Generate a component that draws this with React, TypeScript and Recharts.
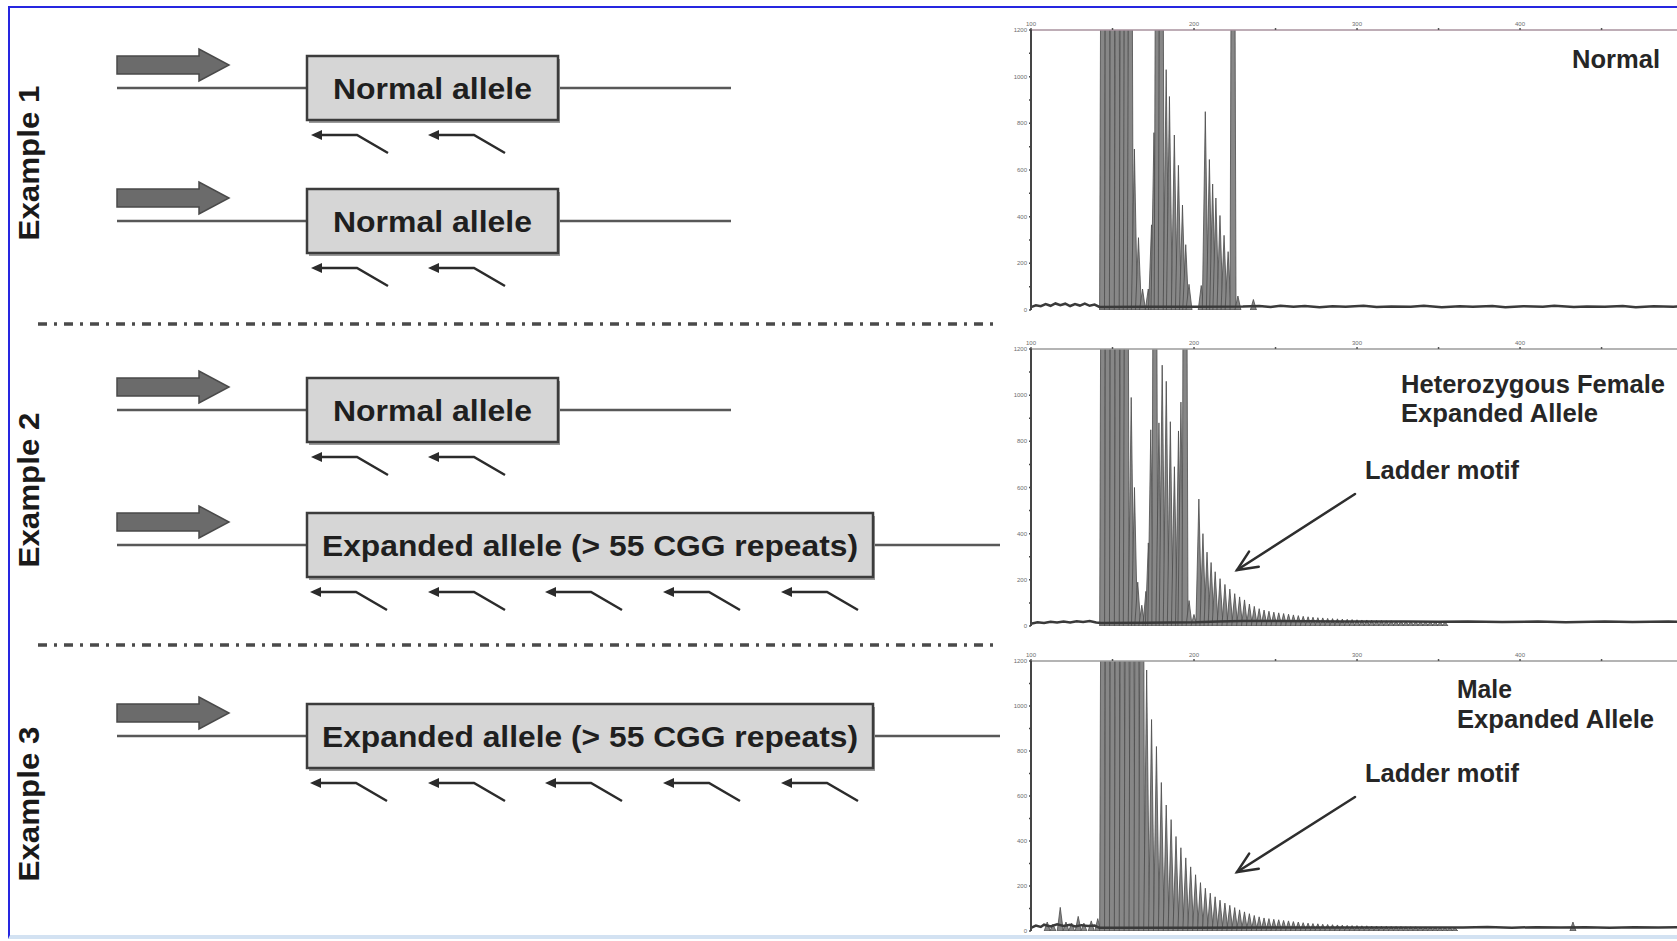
import React from 'react';
import { ComposedChart, Bar, Line, XAxis, YAxis } from 'recharts';

// fragment size (bp) on the top axis, signal (RFU) on the left axis
const bpTicks = [100, 150, 200, 250, 300, 350, 400, 450, 500];
const bpLabels = [100, 200, 300, 400];
const rfuTicks = [0, 100, 200, 300, 400, 500, 600, 700, 800, 900, 1000, 1100, 1200];

// [bp, rfu] peaks; 4000 = peak running off the top of the scale
const normalPeaks: [number, number][] = [
    [144, 4000], [147, 4000], [150, 4000], [153, 4000], [156, 4000], [158.5, 4000], [161, 4000],
    [163.5, 690], [166, 310], [168.5, 90],
    [172, 90], [174, 365], [175.5, 760], [177.5, 4000], [180, 4000], [183, 1030], [185, 915],
    [188, 750], [190.5, 620], [193, 450], [195, 280], [197, 110],
    [204.5, 105], [207, 850], [209.5, 645], [211.5, 540], [213.5, 480], [216, 405], [218.5, 320],
    [221, 250], [224, 4000], [227, 60],
    [236.5, 45],
];
const normalNoise: [number, number][] = [
    [100, 12], [103, 20], [106, 16], [109, 25], [112, 18], [115, 28], [118, 21], [121, 27], [124, 17],
    [127, 25], [130, 19], [133, 27], [136, 18], [139, 23], [142, 13], [170, 14], [200, 14], [230, 15],
    [240, 17], [247, 13], [253, 18], [261, 14], [268, 17], [277, 12], [285, 16], [293, 14], [304, 18],
    [312, 13], [321, 15], [333, 14], [341, 18], [352, 12], [363, 16], [371, 14], [383, 17], [391, 12],
    [402, 16], [414, 14], [421, 18], [433, 13], [441, 15], [452, 14], [463, 17], [471, 12], [482, 16],
    [494, 14], [503, 17], [511, 13], [520, 15],
];

const heteroPeaks: [number, number][] = [
    [144, 4000], [147, 4000], [150, 4000], [153, 4000], [156, 4000], [158.5, 4000],
    [161.5, 990], [163.5, 600], [165.5, 190], [168, 90],
    [170.5, 150], [172, 360], [173.5, 850], [176, 4000], [178.5, 880], [180.5, 1130], [183, 1060],
    [185.5, 885], [188, 690], [190.5, 845], [192, 970], [194.5, 4000], [197, 110], [200, 50],
    [203, 550], [205.5, 400], [208, 320], [210.5, 275], [213, 235], [216, 205], [219, 180], [222, 160],
    [225, 140], [228, 126], [231, 113], [234, 95], [237, 85], [240, 75], [243, 69], [246, 64], [249, 60],
    [252, 57], [255, 54], [258, 51], [261, 48], [264, 45], [267, 42], [270, 40], [273, 38], [276, 36],
    [279, 35], [282, 33], [285, 32], [288, 31], [291, 30], [294, 29], [297, 28], [300, 27], [303, 26],
    [306, 26], [309, 25], [312, 24], [315, 24], [318, 23], [321, 23], [324, 22], [327, 22], [330, 21],
    [333, 21], [336, 20], [339, 20], [342, 20], [345, 19], [348, 19], [351, 18], [354, 18],
];
const heteroNoise: [number, number][] = [
    [100, 10], [104, 16], [108, 13], [112, 18], [116, 15], [120, 19], [124, 15], [128, 21], [132, 17],
    [136, 22], [140, 15], [143, 13], [170, 14], [201, 16], [215, 20], [230, 22], [250, 22], [270, 21],
    [290, 20], [310, 19], [330, 19], [350, 18], [368, 20], [389, 17], [411, 19], [428, 16], [452, 19],
    [469, 17], [491, 19], [508, 16], [520, 18],
];

const malePeaks: [number, number][] = [
    [110, 40], [113.5, 30], [118, 105], [121.5, 40], [125, 35], [129, 65], [132.5, 35], [137, 45], [141, 55],
    [144, 4000], [147, 4000], [150, 4000], [153, 4000], [156, 4000], [159, 4000], [162, 4000], [165, 4000],
    [168, 4000], [171, 1160], [174, 940], [177, 820], [180, 660], [183, 560], [186, 495], [189, 420],
    [192, 370], [195, 325], [198, 285], [201, 250], [204, 215], [207, 190], [210, 168], [213, 152],
    [216, 137], [219, 124], [222, 114], [225, 104], [228, 94], [231, 85], [234, 77], [237, 69], [240, 63],
    [243, 58], [246, 55], [249, 52], [252, 50], [255, 47], [258, 45], [261, 42], [264, 40], [267, 37],
    [270, 35], [273, 33], [276, 32], [279, 30], [282, 29], [285, 28], [288, 27], [291, 26], [294, 25],
    [297, 24], [300, 24], [303, 23], [306, 23], [309, 22], [312, 22], [315, 21], [318, 21], [321, 20],
    [324, 20], [327, 20], [330, 19], [333, 19], [336, 19], [339, 18], [342, 18], [345, 18], [348, 18],
    [351, 17], [354, 17], [357, 17], [360, 16],
    [432.5, 40],
];
const maleNoise: [number, number][] = [
    [100, 14], [103, 24], [106, 18], [108, 28], [112, 20], [116, 30], [120, 22], [124, 28], [127, 20],
    [131, 26], [135, 22], [139, 24], [142, 14], [200, 15], [260, 16], [320, 16], [365, 16], [380, 18],
    [395, 15], [410, 17], [425, 16], [440, 17], [455, 15], [470, 17], [485, 16], [500, 17], [520, 16],
];

const font = '"Liberation Sans", Arial, sans-serif';

type Row = { bp: number; rfu?: number; noise?: number };

function buildRows(peaks: [number, number][], noise: [number, number][]): Row[] {
    const rows: Row[] = [
        ...peaks.map(([bp, rfu]) => ({ bp, rfu })),
        ...noise.map(([bp, n]) => ({ bp, noise: n })),
    ];
    return rows.sort((a, b) => a.bp - b.bp);
}

const Spike = (props: any) => {
    const { x, y, width, height, payload } = props;
    if (!payload || payload.rfu == null || !isFinite(y) || !isFinite(height)) return null;
    const cx = x + width / 2;
    const base = y + height;
    return (
        <path
            d={`M${cx - 3},${base} L${cx},${y} L${cx + 3},${base} Z`}
            fill="#878787"
            stroke="#4a4a4a"
            strokeWidth={0.8}
        />
    );
};

interface PanelProps {
    peaks: [number, number][];
    noise: [number, number][];
    plotTop: number;
    plotHeight: number;
    axisColor: string;
}

const Electropherogram: React.FC<PanelProps> = ({ peaks, noise, plotTop, plotHeight, axisColor }) => {
    const rows = buildRows(peaks, noise);
    return (
        <div style={{ position: 'absolute', left: 1008, top: plotTop - 14 }}>
            <ComposedChart width={708} height={plotHeight + 16} data={rows} margin={{ top: 0, right: 0, bottom: 2, left: 0 }}>
                <XAxis
                    dataKey="bp"
                    type="number"
                    orientation="top"
                    domain={[100, 520.2]}
                    ticks={bpTicks}
                    interval={0}
                    height={14}
                    tickSize={2}
                    tickMargin={2}
                    tick={{ fontSize: 6, fill: '#6d6d6d', fontFamily: font }}
                    tickFormatter={(v: number) => (bpLabels.includes(v) ? String(v) : '')}
                    axisLine={{ stroke: axisColor, strokeWidth: 1.5 }}
                    tickLine={{ stroke: '#555', strokeWidth: 1.5 }}
                />
                <YAxis
                    type="number"
                    domain={[0, 1200]}
                    ticks={rfuTicks}
                    interval={0}
                    allowDataOverflow
                    width={23}
                    tickSize={2}
                    tickMargin={2}
                    tick={{ fontSize: 6, fill: '#6d6d6d', fontFamily: font }}
                    tickFormatter={(v: number) => (v % 200 === 0 ? String(v) : '')}
                    axisLine={{ stroke: '#454545', strokeWidth: 2 }}
                    tickLine={{ stroke: '#454545', strokeWidth: 1.5 }}
                />
                <Bar dataKey="rfu" shape={Spike} barSize={6} isAnimationActive={false} />
                <Line dataKey="noise" type="linear" stroke="#3a3a3a" strokeWidth={2.5} dot={false} connectNulls isAnimationActive={false} />
            </ComposedChart>
        </div>
    );
};

// left-hand schematic: one entry per allele drawn
const alleleRows = [
    { y: 88, expanded: false },
    { y: 221, expanded: false },
    { y: 410, expanded: false },
    { y: 545, expanded: true },
    { y: 736, expanded: true },
];
const exampleLabels = [
    { text: 'Example 1', cy: 163 },
    { text: 'Example 2', cy: 490 },
    { text: 'Example 3', cy: 804 },
];

const Primer = ({ x, y }: { x: number; y: number }) => (
    <g>
        <polyline points={`${x + 6},${y} ${x + 46},${y} ${x + 77},${y + 18}`} fill="none" stroke="#2b2b2b" strokeWidth={2.5} />
        <polygon points={`${x},${y} ${x + 11},${y - 5} ${x + 11},${y + 5}`} fill="#2b2b2b" />
    </g>
);

const AlleleRow = ({ y, expanded }: { y: number; expanded: boolean }) => {
    const boxW = expanded ? 566 : 251;
    const lineEnd = expanded ? 1000 : 731;
    const label = expanded ? 'Expanded allele (> 55 CGG repeats)' : 'Normal allele';
    const textW = expanded ? 536 : 199;
    const tips = expanded ? [310, 428, 545, 663, 781] : [311, 428];
    const cy = y - 23;
    return (
        <g>
            <line x1={117} x2={lineEnd} y1={y} y2={y} stroke="#585858" strokeWidth={2.5} />
            <polygon
                points={`117,${cy - 9} 199,${cy - 9} 199,${cy - 16} 229,${cy} 199,${cy + 16} 199,${cy + 9} 117,${cy + 9}`}
                fill="#6b6b6b"
                stroke="#4a4a4a"
                strokeWidth={1.5}
            />
            <rect x={309} y={y - 29} width={boxW} height={64} fill="#9a9a9a" />
            <rect x={307} y={y - 32} width={boxW} height={64} fill="#d6d6d6" stroke="#3c3c3c" strokeWidth={2.5} />
            <text
                x={307 + boxW / 2}
                y={y + 11}
                textAnchor="middle"
                fontSize={29}
                fontWeight="bold"
                textLength={textW}
                lengthAdjust="spacingAndGlyphs"
                fill="#1f1f1f"
            >
                {label}
            </text>
            {tips.map((tx) => (
                <Primer key={tx} x={tx} y={y + 47} />
            ))}
        </g>
    );
};

const Pointer = ({ x1, y1, x2, y2 }: { x1: number; y1: number; x2: number; y2: number }) => {
    const ang = Math.atan2(y2 - y1, x2 - x1);
    const len = 22;
    const a1 = ang + Math.PI - 0.42;
    const a2 = ang + Math.PI + 0.42;
    return (
        <g stroke="#2e2e2e" strokeWidth={2.5} fill="none" strokeLinecap="round">
            <line x1={x1} y1={y1} x2={x2} y2={y2} />
            <polyline
                points={`${x2 + len * Math.cos(a1)},${y2 + len * Math.sin(a1)} ${x2},${y2} ${x2 + len * Math.cos(a2)},${y2 + len * Math.sin(a2)}`}
            />
        </g>
    );
};

const notes = [
    { text: 'Normal', x: 1572, y: 68, w: 88 },
    { text: 'Heterozygous Female', x: 1401, y: 393, w: 264 },
    { text: 'Expanded Allele', x: 1401, y: 422, w: 197 },
    { text: 'Ladder motif', x: 1365, y: 479, w: 154 },
    { text: 'Male', x: 1457, y: 698, w: 55 },
    { text: 'Expanded Allele', x: 1457, y: 728, w: 197 },
    { text: 'Ladder motif', x: 1365, y: 782, w: 154 },
];

export default function App() {
    return (
        <div style={{ position: 'relative', width: 1677, height: 941, overflow: 'hidden', background: '#fff', fontFamily: font }}>
            <style>{'body{margin:0}'}</style>
            <div
                style={{
                    position: 'absolute',
                    left: 8,
                    top: 6,
                    width: 1720,
                    height: 927,
                    borderLeft: '2px solid #2626e0',
                    borderTop: '2px solid #2626e0',
                    borderBottom: '4px solid #d3e2f2',
                }}
            />
            <Electropherogram peaks={normalPeaks} noise={normalNoise} plotTop={30} plotHeight={280} axisColor="#a8929e" />
            <Electropherogram peaks={heteroPeaks} noise={heteroNoise} plotTop={349} plotHeight={277} axisColor="#9b9b9b" />
            <Electropherogram peaks={malePeaks} noise={maleNoise} plotTop={661} plotHeight={270} axisColor="#9b9b9b" />
            <svg width={1677} height={941} style={{ position: 'absolute', left: 0, top: 0, pointerEvents: 'none' }} fontFamily={font}>
                {exampleLabels.map((l) => (
                    <text
                        key={l.text}
                        transform={`translate(39, ${l.cy}) rotate(-90)`}
                        textAnchor="middle"
                        fontSize={30}
                        fontWeight="bold"
                        textLength={155}
                        lengthAdjust="spacingAndGlyphs"
                        fill="#1a1a1a"
                    >
                        {l.text}
                    </text>
                ))}
                {[324, 645].map((y) => (
                    <line key={y} x1={38} x2={1000} y1={y} y2={y} stroke="#4a4a4a" strokeWidth={3.5} strokeDasharray="9 7 3 7" />
                ))}
                {alleleRows.map((r) => (
                    <AlleleRow key={r.y} y={r.y} expanded={r.expanded} />
                ))}
                {notes.map((n) => (
                    <text
                        key={n.text + n.y}
                        x={n.x}
                        y={n.y}
                        fontSize={25}
                        fontWeight="bold"
                        textLength={n.w}
                        lengthAdjust="spacingAndGlyphs"
                        fill="#262626"
                    >
                        {n.text}
                    </text>
                ))}
                <Pointer x1={1355} y1={494} x2={1237} y2={570} />
                <Pointer x1={1355} y1={797} x2={1237} y2={872} />
            </svg>
        </div>
    );
}
